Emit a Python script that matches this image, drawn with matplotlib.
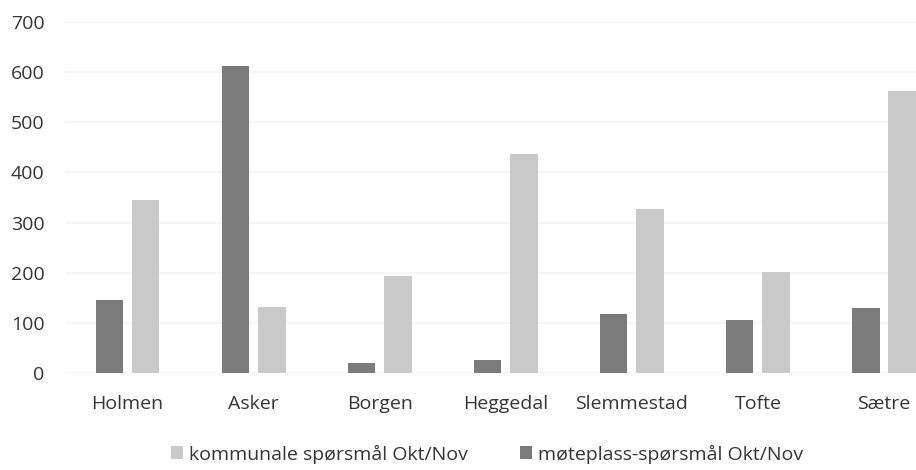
import numpy as np
import matplotlib
matplotlib.use("Agg")
import matplotlib.pyplot as plt

steder = ["Holmen", "Asker", "Borgen", "Heggedal", "Slemmestad", "Tofte", "Sætre"]
moteplass = [145, 613, 20, 25, 117, 105, 130]
kommunale = [345, 131, 193, 436, 328, 202, 562]
yticks = [0, 100, 200, 300, 400, 500, 600, 700]

plt.rcParams['font.family'] = ['Open Sans', 'DejaVu Sans']
tekst = '#353535'

fig = plt.figure(figsize=(9.16, 4.70), dpi=100)
ax = fig.add_axes([64.5 / 916, 97 / 470, 882.5 / 916, 351 / 470])

x = np.arange(len(steder))
w = 0.218
off = 0.144
b1 = ax.bar(x - off, moteplass, w, color='#7b7b7b', label='møteplass-spørsmål Okt/Nov')
b2 = ax.bar(x + off, kommunale, w, color='#c9c9c9', label='kommunale spørsmål Okt/Nov')

ax.set_xlim(-0.5, 6.5)
ax.set_ylim(0, 700)
ax.set_yticks(yticks)
ax.set_xticks(x)
ax.set_xticklabels(steder)
ax.yaxis.grid(True, color='#f6f6f6', linewidth=1.5)
ax.set_axisbelow(True)
for s in ax.spines.values():
    s.set_visible(False)
ax.tick_params(length=0, labelsize=14, colors=tekst)
ax.tick_params(axis='y', pad=14.5)
ax.tick_params(axis='x', pad=16)

fig.legend([b2, b1], [b2.get_label(), b1.get_label()], loc='center',
           bbox_to_anchor=(487 / 916, 1 - 454 / 470), ncol=2, frameon=False,
           fontsize=14, labelcolor=tekst, handlelength=0.6, handleheight=0.6,
           handletextpad=0.3, columnspacing=2.7)

fig.savefig('out.png', dpi=100)
